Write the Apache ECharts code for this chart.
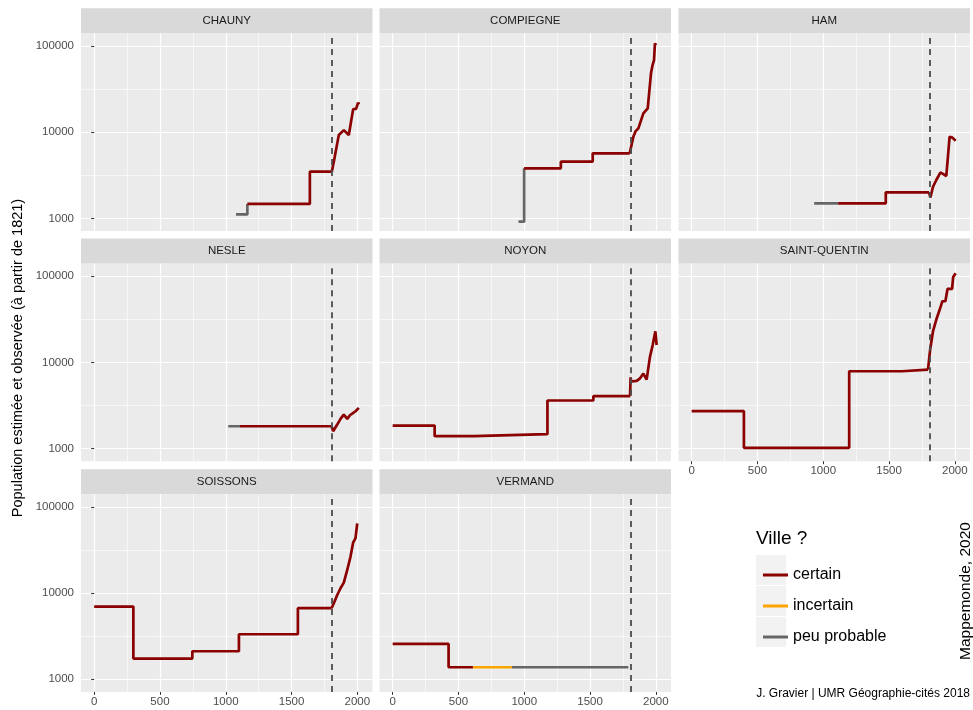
<!DOCTYPE html>
<html><head><meta charset="utf-8">
<script src="https://cdn.jsdelivr.net/npm/echarts@6/dist/echarts.min.js"></script>
<style>html,body{margin:0;padding:0;background:#fff}#c{width:973px;height:710px}</style>
</head><body><div id="c"></div>
<script>
// ---------- data ----------
const towns = ['CHAUNY','COMPIEGNE','HAM','NESLE','NOYON','SAINT-QUENTIN','SOISSONS','VERMAND'];
const statuses = ['certain','incertain','peu probable'];
const statusColors = ['#8B0000','#FFA500','#666666'];
const xTicks = [0,500,1000,1500,2000];
const xMinor = [250,750,1250,1750];
const yTicks = [1000,10000,100000];
const yMinor = [3162,31623];
const refYear = 1809;

const chaunyPeuProbable = [[1078,1110],[1164,1470]];
const chaunyCertainSteps = [[1164,1470],[1639,3475],[1806,3475]];
const chaunyCertainCensus = [[1806,3475],[1815,4100],[1821,4540],[1859,9250],[1897,10570],[1935,9250],[1968,18500],[1982,18800],[1990,18600],[2006,22000],[2012,21000]];

const compiegnePeuProbable = [[956,915],[999,3800]];
const compiegneCertainSteps = [[999,3800],[1278,4540],[1520,5675],[1801,5675]];
const compiegneCertainCensus = [[1801,5675],[1829,8850],[1845,10200],[1867,11070],[1905,16500],[1938,18900],[1963,48100],[1975,60000],[1986,68700],[1993,107000],[2001,102000]];

const hamPeuProbable = [[931,1493],[1113,1493]];
const hamCertainSteps = [[1113,1493],[1475,2003],[1804,2003]];
const hamCertainCensus = [[1804,2003],[1814,1754],[1834,2327],[1859,2785],[1890,3400],[1906,3300],[1935,3100],[1960,8850],[1981,8640],[2006,7960]];

const neslePeuProbable = [[1019,1815],[1108,1815]];
const nesleCertainSteps = [[1108,1815],[1804,1815]];
const nesleCertainCensus = [[1804,1815],[1816,1589],[1847,1897],[1872,2208],[1897,2476],[1923,2208],[1945,2450],[1961,2545],[1986,2710],[2011,2964]];

const noyonCertainSteps = [[0,1849],[319,1390],[615,1466],[1176,3610],[1525,4047],[1804,4047]];
const noyonCertainCensus = [[1804,4047],[1808,6700],[1812,6000],[1854,6100],[1880,6530],[1905,7410],[1930,6300],[1955,11570],[1976,15900],[1996,22900],[2006,15900]];

const stquentinCertainSteps = [[0,2713],[397,1018],[1197,7890],[1599,8240],[1796,8240]];
const stquentinCertainCensus = [[1796,8240],[1812,14000],[1834,23000],[1859,31400],[1885,41000],[1905,51200],[1928,51200],[1944,71100],[1979,71100],[1987,97700],[2006,108000]];

const soissonsCertainSteps = [[0,6970],[298,1738],[746,2113],[1100,3325],[1548,6670],[1804,6670]];
const soissonsCertainCensus = [[1804,6670],[1821,7620],[1847,9500],[1872,11370],[1897,13220],[1923,18530],[1948,26480],[1968,38500],[1986,43300],[1999,64500]];

const vermandCertainSteps = [[0,2570],[425,1378],[610,1378]];
const vermandIncertainSteps = [[610,1378],[906,1378]];
const vermandPeuProbableSteps = [[906,1378],[1791,1378]];

// parts per panel: [status, data, isStep]
const panelParts = [
  [['peu probable', chaunyPeuProbable, true], ['certain', chaunyCertainSteps, true], ['certain', chaunyCertainCensus, false]],
  [['peu probable', compiegnePeuProbable, true], ['certain', compiegneCertainSteps, true], ['certain', compiegneCertainCensus, false]],
  [['peu probable', hamPeuProbable, true], ['certain', hamCertainSteps, true], ['certain', hamCertainCensus, false]],
  [['peu probable', neslePeuProbable, true], ['certain', nesleCertainSteps, true], ['certain', nesleCertainCensus, false]],
  [['certain', noyonCertainSteps, true], ['certain', noyonCertainCensus, false]],
  [['certain', stquentinCertainSteps, true], ['certain', stquentinCertainCensus, false]],
  [['certain', soissonsCertainSteps, true], ['certain', soissonsCertainCensus, false]],
  [['certain', vermandCertainSteps, true], ['incertain', vermandIncertainSteps, true], ['peu probable', vermandPeuProbableSteps, true]]
];

// ---------- layout ----------
const FONT = '"Liberation Sans", Arial, sans-serif';
const colLeft = [81, 379.5, 678.5];
const rowTop = [33.3, 263.5, 494.2];
const PW = 291.5, PH = 197.7, STRIP = 25;
const xLabelPanels = [5, 6, 7];

const grids = [], xAxes = [], yAxes = [], series = [], graphics = [];

towns.forEach((town, i) => {
  const r = Math.floor(i / 3), c = i % 3;
  const showX = xLabelPanels.includes(i), showY = c === 0;
  grids.push({left: colLeft[c], top: rowTop[r], width: PW, height: PH, show: true,
    backgroundColor: '#EBEBEB', borderWidth: 0, containLabel: false});
  xAxes.push({type: 'value', gridIndex: i, min: -100, max: 2115,
    axisLine: {show: false},
    axisTick: {show: showX, length: 3, lineStyle: {color: '#333'}, customValues: xTicks},
    axisLabel: {show: showX, customValues: xTicks, color: '#4D4D4D', fontSize: 11.5, fontFamily: FONT, margin: 4,
      formatter: v => String(v)},
    splitLine: {show: true, lineStyle: {color: '#FFFFFF', width: 1.2}}
  });
  yAxes.push({type: 'log', logBase: 10, gridIndex: i, min: 713, max: 140300,
    axisLine: {show: false},
    axisTick: {show: showY, length: 3, lineStyle: {color: '#333'}, customValues: yTicks},
    axisLabel: {show: showY, customValues: yTicks, color: '#4D4D4D', fontSize: 11.5, fontFamily: FONT, margin: 7,
      formatter: v => String(Math.round(v))},
    splitLine: {show: true, lineStyle: {color: '#FFFFFF', width: 1.2}}
  });
  // strip
  graphics.push({type: 'rect', silent: true, z: 0,
    shape: {x: colLeft[c], y: rowTop[r] - STRIP, width: PW, height: STRIP},
    style: {fill: '#D9D9D9'}});
  graphics.push({type: 'text', silent: true, z: 1,
    x: colLeft[c] + PW / 2, y: rowTop[r] - STRIP / 2,
    style: {text: town, textAlign: 'center', textVerticalAlign: 'middle', font: '11.5px ' + FONT, fill: '#1A1A1A'}});

  const parts = panelParts[i];
  parts.forEach((p, k) => {
    const si = statuses.indexOf(p[0]);
    const s = {
      type: 'line', name: p[0], xAxisIndex: i, yAxisIndex: i, data: p[1],
      step: p[2] ? 'end' : false, showSymbol: false, symbol: 'none', silent: true, z: 3,
      lineStyle: {color: statusColors[si], width: 2.7}, itemStyle: {color: statusColors[si]},
      animation: false
    };
    if (k === 0) {
      s.markLine = {silent: true, symbol: 'none', z: 1, animation: false, label: {show: false},
        lineStyle: {color: '#FFFFFF', width: 0.6, type: 'solid'},
        data: xMinor.map(v => ({xAxis: v})).concat(yMinor.map(v => ({yAxis: v})))};
    }
    if (k === parts.length - 1) {
      s.markLine = {silent: true, symbol: 'none', z: 5, animation: false, label: {show: false},
        lineStyle: {color: '#4D4D4D', width: 1.8, type: [6, 5]},
        data: [{xAxis: refYear}]};
    }
    series.push(s);
  });
});

// legend key backgrounds
[0, 1, 2].forEach(k => {
  graphics.push({type: 'rect', silent: true, z: 0,
    shape: {x: 756, y: 555 + k * 31, width: 30, height: 30}, style: {fill: '#F2F2F2'}});
});
graphics.push({type: 'text', silent: true, x: 756, y: 539,
  style: {text: 'Ville ?', textAlign: 'left', textVerticalAlign: 'middle', font: '19px ' + FONT, fill: '#000'}});
graphics.push({type: 'text', silent: true, x: 970, y: 694,
  style: {text: 'J. Gravier | UMR Géographie-cités 2018', textAlign: 'right', textVerticalAlign: 'middle', font: '12px ' + FONT, fill: '#000'}});
graphics.push({type: 'text', silent: true, x: 966, y: 591, rotation: Math.PI / 2,
  style: {text: 'Mappemonde, 2020', textAlign: 'center', textVerticalAlign: 'middle', font: '15.5px ' + FONT, fill: '#000'}});
graphics.push({type: 'text', silent: true, x: 18, y: 358, rotation: Math.PI / 2,
  style: {text: 'Population estimée et observée (à partir de 1821)', textAlign: 'center', textVerticalAlign: 'middle', font: '14.5px ' + FONT, fill: '#000'}});

const chart = echarts.init(document.getElementById('c'));
chart.setOption({
  animation: false,
  backgroundColor: '#FFFFFF',
  grid: grids, xAxis: xAxes, yAxis: yAxes, series: series,
  graphic: graphics,
  legend: {data: statuses, orient: 'vertical', left: 758, top: 562, itemWidth: 25, itemHeight: 3,
    itemGap: 15, icon: 'rect', selectedMode: false,
    textStyle: {fontSize: 16, fontFamily: FONT, color: '#000', lineHeight: 16}}
});
</script></body></html>
